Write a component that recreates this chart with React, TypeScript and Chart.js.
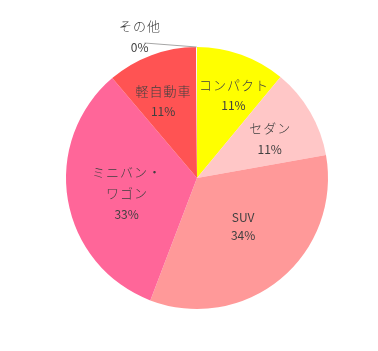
import React, { useEffect, useRef } from "react";
import { Chart, registerables } from "chart.js";

Chart.register(...registerables);

const categories = ["コンパクト", "セダン", "SUV", "ミニバン・ワゴン", "軽自動車", "その他"];
const values = [11.0, 11.2, 33.6, 33.0, 11.1, 0.1];
const colors = ["#FFFF00", "#FFC7C7", "#FF9999", "#FF6699", "#FF5353", "#FFFFFF"];
// label placement (style): radius fraction and angular nudge in degrees
const labelRadius = [0.69, 0.63, 0.51, 0.55, 0.64, 0];
const labelNudge = [4, 2, -4, -2.5, -3.5, 0];

const FONT = '"Noto Sans CJK JP", "Noto Sans", sans-serif';

const labelPlugin = {
  id: "sliceLabels",
  afterDatasetsDraw(chart: any) {
    const ctx = chart.ctx as CanvasRenderingContext2D;
    const meta = chart.getDatasetMeta(0);
    const data = chart.data.datasets[0].data as number[];
    const total = data.reduce((a, b) => a + b, 0);
    ctx.save();
    ctx.fillStyle = "#404040";
    ctx.textAlign = "center";
    ctx.textBaseline = "middle";
    meta.data.forEach((arc: any, i: number) => {
      const p = arc.getProps(["x", "y", "startAngle", "endAngle", "outerRadius"], true);
      const mid = (p.startAngle + p.endAngle) / 2 + (labelNudge[i] * Math.PI) / 180;
      const pct = Math.round((data[i] / total) * 100) + "%";
      const name = categories[i];
      const lines = name.includes("・") ? [name.split("・")[0] + "・", name.split("・")[1]] : [name];
      lines.push(pct);
      if (labelRadius[i] === 0) {
        const ex = p.x + Math.cos(mid) * p.outerRadius;
        const ey = p.y + Math.sin(mid) * p.outerRadius;
        const lx = ex - 57;
        const ly = ey - 10;
        ctx.strokeStyle = "#A6A6A6";
        ctx.lineWidth = 1;
        ctx.beginPath();
        ctx.moveTo(lx + 5, ly + 6);
        ctx.lineTo(ex, ey);
        ctx.stroke();
        drawLines(ctx, lines, lx, ly);
        return;
      }
      const r = p.outerRadius * labelRadius[i];
      const cx = p.x + Math.cos(mid) * r;
      const cy = p.y + Math.sin(mid) * r;
      drawLines(ctx, lines, cx, cy);
    });
    ctx.restore();
  },
};

function drawLines(ctx: CanvasRenderingContext2D, lines: string[], cx: number, cy: number) {
  const cjk = /[^\x00-\x7F]/;
  const gaps = lines.map((l) => (cjk.test(l) ? 21 : 18));
  let totalH = 0;
  for (let k = 0; k < lines.length - 1; k++) totalH += gaps[k];
  let y = cy - totalH / 2;
  lines.forEach((l, k) => {
    const isCjk = cjk.test(l);
    ctx.font = isCjk ? `300 13px ${FONT}` : `400 12px ${FONT}`;
    const sp = isCjk ? 1 : 0;
    (ctx as any).letterSpacing = sp + "px";
    ctx.fillText(l, cx + sp / 2, y);
    y += gaps[k];
  });
  (ctx as any).letterSpacing = "0px";
}

export default function App() {
  const ref = useRef<HTMLCanvasElement>(null);
  useEffect(() => {
    const chart = new Chart(ref.current!, {
      type: "pie",
      data: {
        labels: categories,
        datasets: [
          {
            data: values,
            backgroundColor: colors,
            borderWidth: 0,
          },
        ],
      },
      options: {
        animation: false,
        responsive: false,
        layout: { padding: { left: 66, right: 50, top: 47, bottom: 42 } },
        plugins: {
          legend: { display: false },
          tooltip: { enabled: false },
        },
      },
      plugins: [labelPlugin],
    });
    return () => chart.destroy();
  }, []);
  return (
    <div style={{ position: "fixed", left: 0, top: 0, width: 378, height: 351, background: "#fff" }}>
      <canvas ref={ref} width={378} height={351} style={{ width: 378, height: 351 }} />
    </div>
  );
}
